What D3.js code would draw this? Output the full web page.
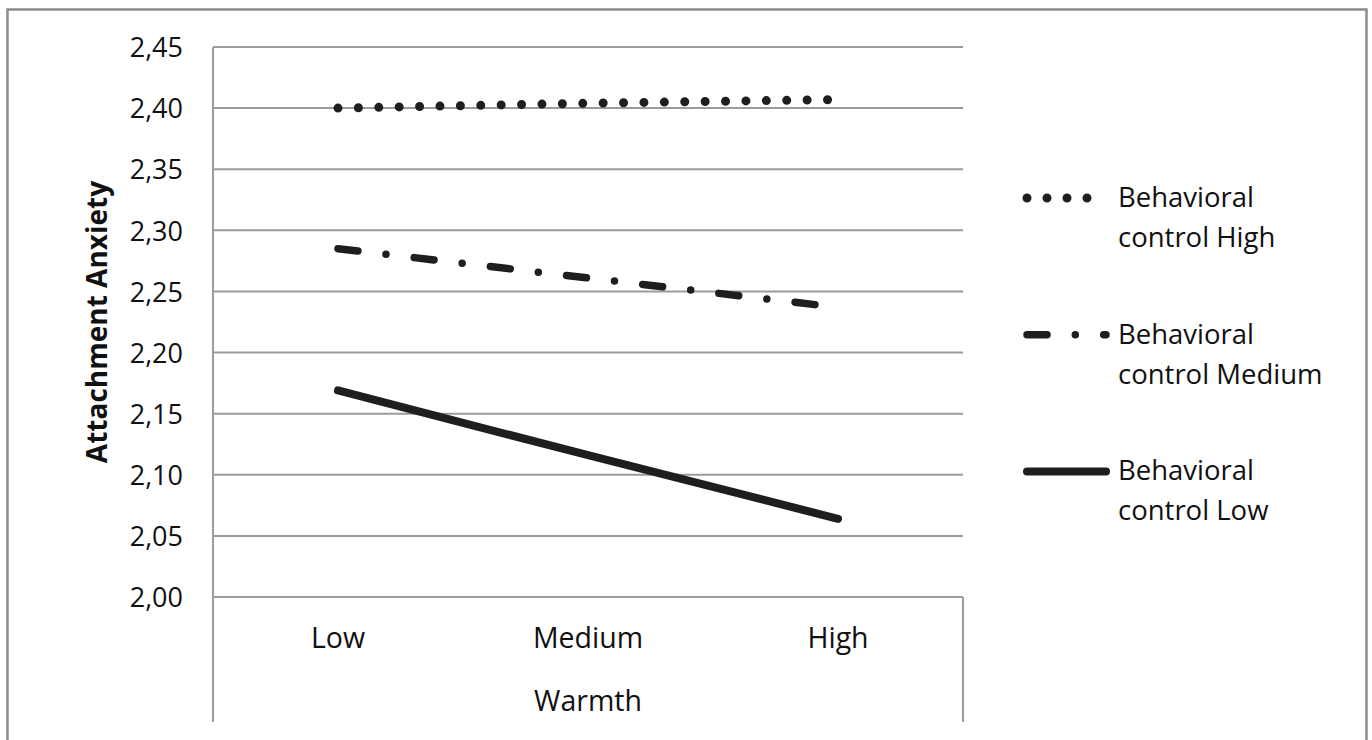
<!DOCTYPE html>
<html>
<head>
<meta charset="utf-8">
<script src="https://cdn.jsdelivr.net/npm/d3@7"></script>
<style>
  html, body { margin: 0; padding: 0; background: #fff; }
  svg text { font-family: "Open Sans", Lato, sans-serif; fill: #111; }
</style>
</head>
<body>
<div id="chart"></div>
<script>
'use strict'

// data
const categories = ['Low', 'Medium', 'High']
const seriesNames = ['Behavioral control High', 'Behavioral control Medium', 'Behavioral control Low']
const highValues = [2.400, 2.404, 2.407]
const mediumValues = [2.285, 2.261, 2.237]
const lowValues = [2.169, 2.116, 2.064]
const yTicks = [2.00, 2.05, 2.10, 2.15, 2.20, 2.25, 2.30, 2.35, 2.40, 2.45]
const xTitle = 'Warmth'
const yTitle = 'Attachment Anxiety'

////////////////////////////////////
//////////// svg setup /////////////
////////////////////////////////////

const svgWidth = 1372
const svgHeight = 740

const plot = { left: 213, right: 963, top: 47, bottom: 597 }
const catBottom = 722

const svg = d3.select('#chart').append('svg')
    .attr('width', svgWidth)
    .attr('height', svgHeight)

// outer chart border (bottom edge runs off the picture)
svg.append('path')
    .attr('d', `M7.5,${svgHeight + 5} L7.5,9.5 L1366.5,9.5 L1366.5,${svgHeight + 5}`)
    .attr('fill', 'none')
    .attr('stroke', '#8c8c8c')
    .attr('stroke-width', 2.5)

////////////////////////////////////
//////////////scales////////////////
////////////////////////////////////

const xScale = d3.scaleBand()
    .domain(categories)
    .range([plot.left, plot.right])
    .padding(0)

const yScale = d3.scaleLinear()
    .domain([2.00, 2.45])
    .range([plot.bottom, plot.top])

const xc = d => xScale(d) + xScale.bandwidth() / 2

const locale = d3.formatLocale({ decimal: ',', thousands: '.', grouping: [3], currency: ['', ''] })
const fmt = locale.format('.2f')

const gridColor = '#9b9b9b'

////////////////////////////////////
///////////////axis/////////////////
////////////////////////////////////

// horizontal gridlines
svg.append('g')
    .selectAll('line')
    .data(yTicks)
    .join('line')
    .attr('x1', plot.left)
    .attr('x2', plot.right)
    .attr('y1', d => yScale(d))
    .attr('y2', d => yScale(d))
    .attr('stroke', gridColor)
    .attr('stroke-width', 2)

// y axis with labels
const yAxis = d3.axisLeft(yScale)
    .tickValues(yTicks)
    .tickFormat(fmt)
    .tickSize(0)
    .tickPadding(30)

const yg = svg.append('g')
    .attr('transform', `translate(${plot.left},0)`)
    .call(yAxis)
yg.select('.domain').remove()
yg.selectAll('text')
    .style('font-size', '27px')
    .attr('dy', '0.36em')

// category axis with separators
svg.append('line')
    .attr('x1', plot.left).attr('x2', plot.left)
    .attr('y1', plot.top).attr('y2', catBottom)
    .attr('stroke', gridColor).attr('stroke-width', 2)
svg.append('line')
    .attr('x1', plot.right).attr('x2', plot.right)
    .attr('y1', plot.bottom).attr('y2', catBottom)
    .attr('stroke', gridColor).attr('stroke-width', 2)

const xAxis = d3.axisBottom(xScale).tickSize(0).tickPadding(0)
const xg = svg.append('g')
    .attr('transform', `translate(0,${plot.bottom})`)
    .call(xAxis)
xg.select('.domain').remove()
xg.selectAll('text')
    .attr('dy', null)
    .attr('y', 51)
    .style('font-size', '28.5px')

svg.append('text')
    .attr('x', (plot.left + plot.right) / 2)
    .attr('y', 711)
    .attr('text-anchor', 'middle')
    .style('font-size', '28.5px')
    .text(xTitle)

svg.append('text')
    .attr('transform', `translate(107,${(plot.top + plot.bottom) / 2}) rotate(-90)`)
    .attr('text-anchor', 'middle')
    .style('font-size', '28px')
    .style('font-weight', 'bold')
    .text(yTitle)

////////////////////////////////////
/////////////// lines //////////////
////////////////////////////////////

const lineColor = '#1e1e1e'
const styles = [
    { values: highValues, width: 9, dash: '0 20.4' },
    { values: mediumValues, width: 7.5, dash: '20 28.3 0 28.4' },
    { values: lowValues, width: 8, dash: null }
]

const line = d3.line()
    .x((d, i) => xc(categories[i]))
    .y(d => yScale(d))

svg.append('g')
    .selectAll('path')
    .data(styles)
    .join('path')
    .attr('d', d => line(d.values))
    .attr('fill', 'none')
    .attr('stroke', lineColor)
    .attr('stroke-width', d => d.width)
    .attr('stroke-linecap', 'round')
    .attr('stroke-dasharray', d => d.dash)

////////////////////////////////////
////////////// legend //////////////
////////////////////////////////////

const legendX = 1027
const legendY0 = 198
const legendStep = 136.7

const legend = svg.append('g')
    .selectAll('g')
    .data(styles)
    .join('g')
    .attr('transform', (d, i) => `translate(${legendX},${legendY0 + i * legendStep})`)

legend.append('line')
    .attr('x1', 0)
    .attr('x2', (d, i) => i === 0 ? 62 : 79)
    .attr('y1', 0).attr('y2', 0)
    .attr('stroke', lineColor)
    .attr('stroke-width', d => d.width)
    .attr('stroke-linecap', 'round')
    .attr('stroke-dasharray', d => d.dash === '0 20.4' ? '0 20' : d.dash)

legend.append('text')
    .attr('x', 91)
    .attr('y', 9)
    .style('font-size', '27.5px')
    .selectAll('tspan')
    .data((d, i) => {
        const name = seriesNames[i]
        const cut = name.indexOf(' ')
        return [name.slice(0, cut), name.slice(cut + 1)]
    })
    .join('tspan')
    .attr('x', 91)
    .attr('dy', (d, i) => i === 0 ? 0 : 40)
    .text(d => d)
</script>
</body>
</html>
